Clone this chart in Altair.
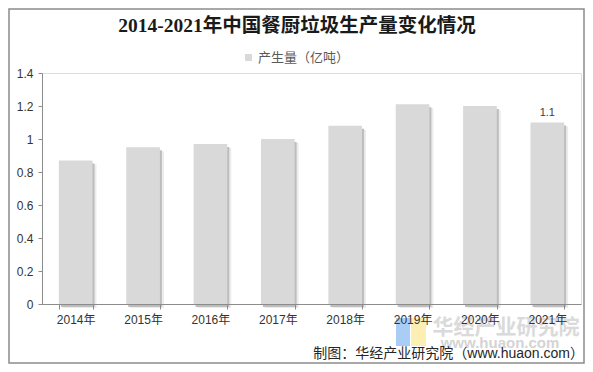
import altair as alt
import pandas as pd

years = ["2014年", "2015年", "2016年", "2017年", "2018年", "2019年", "2020年", "2021年"]
values = [0.87, 0.95, 0.97, 1.0, 1.08, 1.21, 1.2, 1.1]
labels = ["", "", "", "", "", "", "", "1.1"]
series_name = "产生量（亿吨）"
title_text = "2014-2021年中国餐厨垃圾生产量变化情况"
source_text = "制图：华经产业研究院（www.huaon.com）"
wm_name = "华经产业研究院"
wm_url = "www.huaon.com"
y_ticks = [0, 0.2, 0.4, 0.6, 0.8, 1.0, 1.2, 1.4]

df = pd.DataFrame({"year": years, "value": values, "label": labels,
                   "series": [series_name] * len(years)})
one = pd.DataFrame({"a": [0]})

SANS = "Liberation Sans, Noto Sans CJK SC"
W, H = 539, 231

xenc = alt.X("year:N", sort=years,
             scale=alt.Scale(paddingInner=0.5, paddingOuter=0.25),
             axis=alt.Axis(title=None, labelAngle=0, tickBand="extent", tickSize=5,
                           labelPadding=5, labelFontSize=12, labelFont=SANS,
                           labelColor="#333333", domainColor="#8c8c8c",
                           tickColor="#8c8c8c", grid=False, zindex=1))
yenc = alt.Y("value:Q", scale=alt.Scale(domain=[0, 1.4], nice=False),
             axis=alt.Axis(title=None, values=y_ticks, format="~g", tickSize=4,
                           labelPadding=5, labelFontSize=12, labelFont=SANS,
                           labelColor="#333333", domainColor="#8c8c8c",
                           tickColor="#8c8c8c", grid=False))

base = alt.Chart(df)
shadow2 = base.mark_bar(color="#ececec", xOffset=4, yOffset=4).encode(x=xenc, y=yenc)
shadow1 = base.mark_bar(color="#bdbdbd", xOffset=2, yOffset=3).encode(x=xenc, y=yenc)
bars = base.mark_bar().encode(
    x=xenc, y=yenc,
    color=alt.Color("series:N", scale=alt.Scale(range=["#d9d9d9"]),
                    legend=alt.Legend(title=None, orient="none", legendX=200, legendY=-22,
                                      symbolType="square", symbolSize=49,
                                      symbolStrokeWidth=0, labelFontSize=13,
                                      labelFont=SANS, labelColor="#595959",
                                      labelOffset=3)))
text_lbl = base.mark_text(baseline="bottom", dy=-5, fontSize=11, font=SANS,
                          color="#404040").encode(x=xenc, y=yenc, text="label:N")

frame = alt.Chart(one).mark_rect(fill=None, stroke="#8c8c8c", strokeWidth=1.5).encode(
    x=alt.value(-33), x2=alt.value(W + 3), y=alt.value(-64), y2=alt.value(H + 59))

title = alt.Chart(pd.DataFrame({"t": [title_text]})).mark_text(
    fontSize=19.5, fontWeight="bold", font="Liberation Serif, Noto Sans CJK SC",
    color="#1a1a1a", baseline="middle").encode(
    x=alt.value(255), y=alt.value(-47), text="t:N")

logo_b = alt.Chart(one).mark_rect(color="#aacdf5").encode(
    x=alt.value(354), x2=alt.value(368), y=alt.value(245), y2=alt.value(273))
logo_y = alt.Chart(one).mark_rect(color="#fbefb3").encode(
    x=alt.value(369), x2=alt.value(384), y=alt.value(245), y2=alt.value(273))
wm1 = alt.Chart(pd.DataFrame({"t": [wm_name]})).mark_text(
    fontSize=21, fontWeight="bold", font="Noto Sans CJK SC", color="#d4d4d4",
    opacity=0.85, baseline="middle").encode(x=alt.value(464), y=alt.value(255), text="t:N")
wm2 = alt.Chart(pd.DataFrame({"t": [wm_url]})).mark_text(
    fontSize=15, fontWeight="bold", font=SANS, color="#d4d4d4",
    baseline="middle").encode(x=alt.value(458), y=alt.value(270), text="t:N")
source = alt.Chart(pd.DataFrame({"t": [source_text]})).mark_text(
    fontSize=14, font=SANS, color="#262626", align="right", baseline="middle").encode(
    x=alt.value(542), y=alt.value(281), text="t:N")

chart = alt.layer(frame, logo_b, logo_y, shadow2, shadow1, bars, text_lbl,
                  title, wm1, wm2, source).properties(
    width=W, height=H,
    autosize=alt.AutoSizeParams(type="none"),
    padding={"left": 34, "top": 65, "right": 4, "bottom": 60},
).configure_view(stroke=None).configure(background="white")

chart.save("out.html", embed_options={"renderer": "svg", "actions": False})
